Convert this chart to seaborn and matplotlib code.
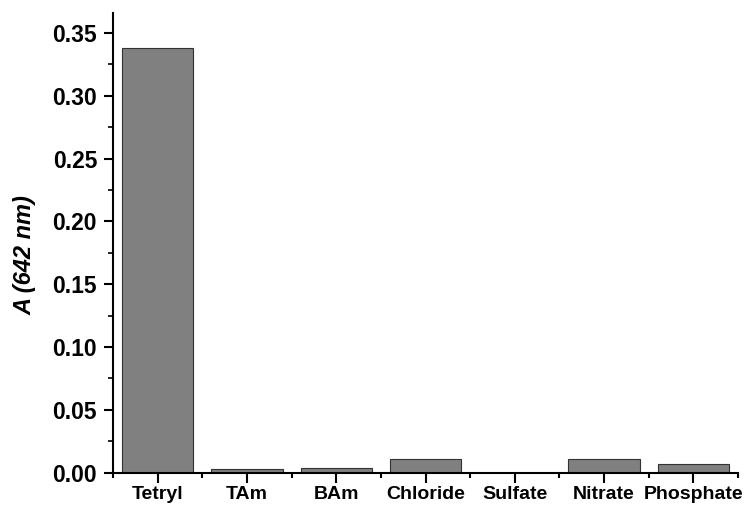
import matplotlib
matplotlib.use("Agg")
import matplotlib.pyplot as plt
from matplotlib.ticker import MultipleLocator, FixedLocator
import seaborn as sns
import pandas as pd

analytes = ["Tetryl", "TAm", "BAm", "Chloride", "Sulfate", "Nitrate", "Phosphate"]
absorbance = [0.338, 0.0025, 0.0036, 0.0105, 0.0, 0.0105, 0.0065]
ytick_values = [0.00, 0.05, 0.10, 0.15, 0.20, 0.25, 0.30, 0.35]

sns.set_style("ticks")
plt.rcParams["font.family"] = ["Liberation Sans", "DejaVu Sans"]
plt.rcParams["font.weight"] = "bold"
plt.rcParams["text.color"] = "black"
plt.rcParams["axes.labelcolor"] = "black"
plt.rcParams["xtick.color"] = "black"
plt.rcParams["ytick.color"] = "black"

df = pd.DataFrame({"analyte": analytes, "A": absorbance})

fig = plt.figure(figsize=(7.48, 5.07), dpi=100)
ax = fig.add_axes([113 / 748, 34.5 / 507, 625 / 748, 459.5 / 507])

sns.barplot(data=df, x="analyte", y="A", order=analytes, color="#808080",
            saturation=1, width=0.8, edgecolor="#333333", linewidth=0.8, ax=ax)

ax.set_xlim(-0.5, 6.5)
ax.set_ylim(0, 0.366)

sns.despine(ax=ax)
for side in ("left", "bottom"):
    ax.spines[side].set_linewidth(1.5)
    ax.spines[side].set_color("black")

ax.set_yticks(ytick_values)
ax.set_yticklabels([f"{v:.2f}" for v in ytick_values])
ax.yaxis.set_minor_locator(MultipleLocator(0.025))
ax.xaxis.set_minor_locator(FixedLocator([i - 0.5 for i in range(len(analytes) + 1)]))

ax.tick_params(axis="both", which="both", colors="black", labelcolor="black")
ax.tick_params(axis="y", which="major", length=6.5, width=1.5, pad=5, labelsize=16.5)
ax.tick_params(axis="y", which="minor", length=3.6, width=1.2)
ax.tick_params(axis="x", which="major", length=7.2, width=1.5, pad=2.5, labelsize=14)
ax.tick_params(axis="x", which="minor", length=3.6, width=1.5)
for lbl in ax.get_xticklabels() + ax.get_yticklabels():
    lbl.set_fontweight("bold")

ax.set_xlabel("")
ax.set_ylabel("A (642 nm)", fontsize=17, fontweight="bold", fontstyle="italic", color="black")
ax.yaxis.set_label_coords(-0.123, 0.473)

fig.savefig("out.png", dpi=100)
